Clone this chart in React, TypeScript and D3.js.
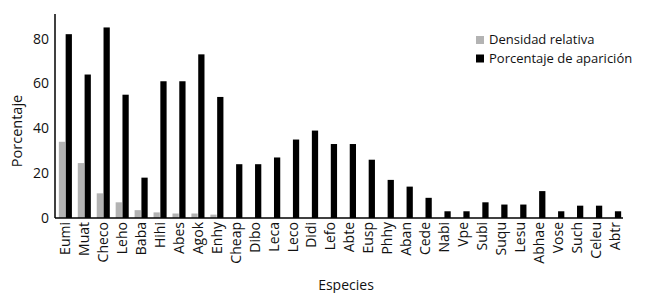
import { scaleBand, scaleLinear } from "d3";

const species = [
  "Eumi", "Muat", "Checo", "Leho", "Baba", "Hihi", "Abes", "Agok", "Enhy", "Cheap",
  "Dibo", "Leca", "Leco", "Didi", "Lefo", "Abte", "Eusp", "Phhy", "Aban", "Cede",
  "Nabi", "Vpe", "Subi", "Suqu", "Lesu", "Abhae", "Vose", "Such", "Celeu", "Abtr",
];
const densidad = [
  34, 24.5, 11, 7, 3.5, 2.5, 2, 2, 1.5, 0,
  0, 0, 0, 0, 0, 0, 0, 0, 0, 0,
  0, 0, 0, 0, 0, 0, 0, 0, 0, 0,
];
const aparicion = [
  82, 64, 85, 55, 18, 61, 61, 73, 54, 24,
  24, 27, 35, 39, 33, 33, 26, 17, 14, 9,
  3, 3, 7, 6, 6, 12, 3, 5.5, 5.5, 3,
];
const yTicks = [0, 20, 40, 60, 80];
const seriesNames = ["Densidad relativa", "Porcentaje de aparición"];
const seriesColors = ["#b3b3b3", "#000000"];

const W = 650;
const H = 293;
const left = 55;
const right = 623;
const base = 218;
const top = 14;
const font = "'Open Sans', sans-serif";

export default function App() {
  const x = scaleBand<string>()
    .domain(species)
    .range([left + 1, right + 1])
    .paddingInner(0.31)
    .paddingOuter(0.15);
  const sub = scaleBand<number>()
    .domain([0, 1])
    .range([0, x.bandwidth()])
    .paddingInner(0.08);
  const y = scaleLinear().domain([0, 91]).range([base, top]);

  const series = [densidad, aparicion];

  return (
    <svg
      width={W}
      height={H}
      style={{ position: "absolute", left: 0, top: 0, background: "#fff" }}
      fontFamily={font}
    >
      {/* bars */}
      {species.map((s, i) => (
        <g key={s} transform={`translate(${x(s)},0)`}>
          {series.map((vals, k) =>
            vals[i] > 0 ? (
              <rect
                key={k}
                x={sub(k)}
                y={y(vals[i])}
                width={sub.bandwidth()}
                height={base - y(vals[i])}
                fill={seriesColors[k]}
              />
            ) : null
          )}
        </g>
      ))}

      {/* axes */}
      <line x1={left} x2={left} y1={top} y2={base} stroke="#000" strokeWidth={1.5} />
      <line x1={left} x2={right} y1={base} y2={base} stroke="#000" strokeWidth={1.5} />

      {yTicks.map((t) => (
        <text
          key={t}
          x={left - 6}
          y={y(t)}
          dy="0.35em"
          textAnchor="end"
          fontSize={14}
          fill="#111"
        >
          {t}
        </text>
      ))}

      {species.map((s) => (
        <text
          key={s}
          transform={`translate(${(x(s) ?? 0) + x.bandwidth() / 2},${base + 4}) rotate(-90)`}
          textAnchor="end"
          dy="0.35em"
          fontSize={14}
          fill="#111"
        >
          {s}
        </text>
      ))}

      <text
        transform={`translate(17,131) rotate(-90)`}
        textAnchor="middle"
        dy="0.35em"
        fontSize={14.5}
        fill="#111"
      >
        Porcentaje
      </text>
      <text x={346} y={285} textAnchor="middle" dy="0.35em" fontSize={14} fill="#111">
        Especies
      </text>

      {/* legend */}
      {seriesNames.map((n, k) => (
        <g key={n} transform={`translate(476,${36 + k * 18.5})`}>
          <rect width={8} height={8} fill={seriesColors[k]} />
          <text x={13} y={8} fontSize={13} fill="#111">
            {n}
          </text>
        </g>
      ))}
    </svg>
  );
}
